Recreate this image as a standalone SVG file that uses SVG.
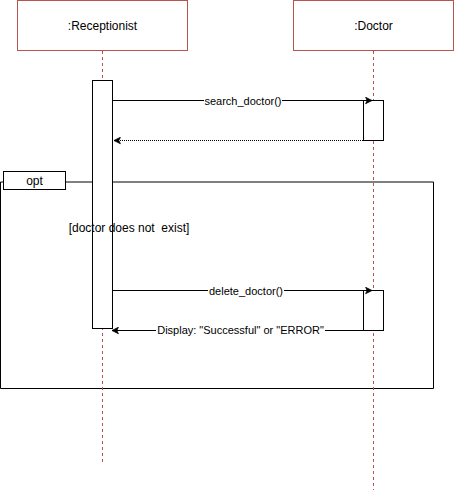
<svg xmlns="http://www.w3.org/2000/svg" width="455" height="493" viewBox="0 0 455 493">
<style>
.box{fill:#fff;stroke:#b85450;stroke-width:1}
.life{stroke:#b85450;stroke-width:1;stroke-dasharray:3 3;fill:none}
.act{fill:#fff;stroke:#000;stroke-width:1}
.msg{stroke:#000;stroke-width:1;fill:none}
.t{font-family:"Liberation Sans",Arial,sans-serif;font-size:11px;fill:#000;text-anchor:middle}
.lbl{fill:#fff}
</style>
<defs>
<marker id="arr" viewBox="0 0 10 10" refX="9" refY="5" markerWidth="8" markerHeight="8" markerUnits="userSpaceOnUse" orient="auto">
<path d="M1,1 L9,5 L1,9 L3,5 Z" fill="#000" stroke="#000" stroke-width="1"/>
</marker>
</defs>
<rect x="0" y="0" width="455" height="493" fill="#fff"/>
<g id="frame-opt">
<path d="M65.5,182 L433.5,182 L433.5,388.5 L0.5,388.5 L0.5,182 L3.5,182" fill="none" stroke="#000"/>
<rect x="3.5" y="171.5" width="62" height="18" fill="#fff" stroke="#000"/>
<text class="t" x="34.5" y="184.5" style="font-size:12px">opt</text>
</g>
<g id="receptionist">
<rect class="box" x="17.5" y="0.5" width="170" height="50"/>
<text class="t" x="102.5" y="29.5" style="font-size:12px">:Receptionist</text>
<line class="life" x1="102.5" y1="51" x2="102.5" y2="462"/>
<rect class="act" x="92.5" y="80.5" width="20" height="248"/>
</g>
<g id="doctor">
<rect class="box" x="293.5" y="0.5" width="160" height="50"/>
<text class="t" x="373.5" y="29.5" style="font-size:12px">:Doctor</text>
<line class="life" x1="373.5" y1="51" x2="373.5" y2="490"/>
<rect class="act" x="363.5" y="100.5" width="20" height="40"/>
<rect class="act" x="363.5" y="290.5" width="20" height="40"/>
</g>
<g id="guard">
<text class="t" x="129" y="232" style="font-size:12px" xml:space="preserve">[doctor does not  exist]</text>
</g>
<g id="connectors">
<path class="msg" d="M112.5,100.5 L372,100.5" marker-end="url(#arr)"/>
<rect class="lbl" x="204" y="94" width="78" height="13"/>
<text class="t" x="243" y="104.5">search_doctor()</text>
<path class="msg" d="M363,140.5 L114,140.5" stroke-dasharray="1 1" marker-end="url(#arr)"/>
<path class="msg" d="M112.5,290.5 L372,290.5" marker-end="url(#arr)"/>
<rect class="lbl" x="208" y="284" width="76" height="13"/>
<text class="t" x="246" y="294.5">delete_doctor()</text>
<path class="msg" d="M363,330.5 L112,330.5" stroke="#666" marker-end="url(#arr)"/>
<rect class="lbl" x="156" y="324" width="169" height="13"/>
<text class="t" x="240.5" y="334">Display: "Successful" or "ERROR"</text>
</g>
</svg>
